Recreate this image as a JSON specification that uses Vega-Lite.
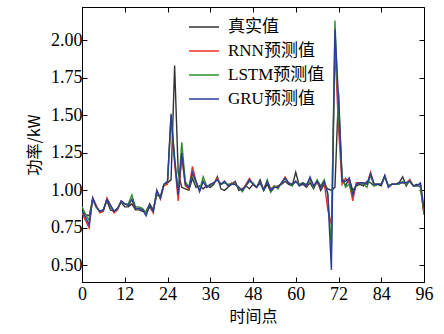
{
  "$schema": "https://vega.github.io/schema/vega-lite/v6.json",
  "width": 342,
  "height": 275,
  "autosize": {"type": "none"},
  "padding": {"left": 82, "top": 7, "right": 20, "bottom": 52},
  "background": "white",
  "config": {
    "view": {"stroke": "#000", "strokeWidth": 1},
    "axis": {
      "domainColor": "#000", "tickColor": "#000", "tickSize": -5, "grid": false,
      "labelFont": "Liberation Serif, Times New Roman, serif", "labelFontSize": 18, "labelColor": "#000",
      "titleFont": "Noto Sans CJK SC", "titleFontSize": 16, "titleFontWeight": "normal", "titleColor": "#000"
    },
    "legend": {
      "labelFont": "Liberation Serif, Noto Sans CJK SC, serif", "labelFontSize": 17, "labelColor": "#000"
    }
  },
  "data": {
    "values": [
      {"t":0,"真实值":0.86,"RNN预测值":0.85,"LSTM预测值":0.89,"GRU预测值":0.86},
      {"t":1,"真实值":0.84,"RNN预测值":0.80,"LSTM预测值":0.84,"GRU预测值":0.82},
      {"t":2,"真实值":0.83,"RNN预测值":0.75,"LSTM预测值":0.80,"GRU预测值":0.77},
      {"t":3,"真实值":0.94,"RNN预测值":0.95,"LSTM预测值":0.94,"GRU预测值":0.95},
      {"t":4,"真实值":0.89,"RNN预测值":0.90,"LSTM预测值":0.89,"GRU预测值":0.89},
      {"t":5,"真实值":0.86,"RNN预测值":0.85,"LSTM预测值":0.86,"GRU预测值":0.86},
      {"t":6,"真实值":0.87,"RNN预测值":0.86,"LSTM预测值":0.87,"GRU预测值":0.87},
      {"t":7,"真实值":0.93,"RNN预测值":0.95,"LSTM预测值":0.94,"GRU预测值":0.94},
      {"t":8,"真实值":0.87,"RNN预测值":0.90,"LSTM预测值":0.90,"GRU预测值":0.90},
      {"t":9,"真实值":0.86,"RNN预测值":0.85,"LSTM预测值":0.86,"GRU预测值":0.86},
      {"t":10,"真实值":0.88,"RNN预测值":0.87,"LSTM预测值":0.88,"GRU预测值":0.88},
      {"t":11,"真实值":0.92,"RNN预测值":0.93,"LSTM预测值":0.92,"GRU预测值":0.93},
      {"t":12,"真实值":0.89,"RNN预测值":0.91,"LSTM预测值":0.91,"GRU预测值":0.91},
      {"t":13,"真实值":0.89,"RNN预测值":0.90,"LSTM预测值":0.91,"GRU预测值":0.90},
      {"t":14,"真实值":0.91,"RNN预测值":0.94,"LSTM预测值":0.97,"GRU预测值":0.94},
      {"t":15,"真实值":0.87,"RNN预测值":0.88,"LSTM预测值":0.89,"GRU预测值":0.88},
      {"t":16,"真实值":0.87,"RNN预测值":0.88,"LSTM预测值":0.89,"GRU预测值":0.88},
      {"t":17,"真实值":0.86,"RNN预测值":0.87,"LSTM预测值":0.88,"GRU预测值":0.87},
      {"t":18,"真实值":0.86,"RNN预测值":0.85,"LSTM预测值":0.85,"GRU预测值":0.83},
      {"t":19,"真实值":0.91,"RNN预测值":0.89,"LSTM预测值":0.90,"GRU预测值":0.90},
      {"t":20,"真实值":0.87,"RNN预测值":0.85,"LSTM预测值":0.86,"GRU预测值":0.86},
      {"t":21,"真实值":0.97,"RNN预测值":1.00,"LSTM预测值":0.99,"GRU预测值":1.00},
      {"t":22,"真实值":0.96,"RNN预测值":0.94,"LSTM预测值":0.95,"GRU预测值":0.95},
      {"t":23,"真实值":1.04,"RNN预测值":1.03,"LSTM预测值":1.04,"GRU预测值":1.04},
      {"t":24,"真实值":1.05,"RNN预测值":1.04,"LSTM预测值":1.06,"GRU预测值":1.06},
      {"t":25,"真实值":1.07,"RNN预测值":1.48,"LSTM预测值":1.50,"GRU预测值":1.51},
      {"t":26,"真实值":1.83,"RNN预测值":1.18,"LSTM预测值":1.22,"GRU预测值":1.20},
      {"t":27,"真实值":1.12,"RNN预测值":0.93,"LSTM预测值":0.99,"GRU预测值":0.97},
      {"t":28,"真实值":1.02,"RNN预测值":1.22,"LSTM预测值":1.32,"GRU预测值":1.25},
      {"t":29,"真实值":1.01,"RNN预测值":1.03,"LSTM预测值":1.06,"GRU预测值":1.04},
      {"t":30,"真实值":1.00,"RNN预测值":1.01,"LSTM预测值":1.02,"GRU预测值":1.02},
      {"t":31,"真实值":1.08,"RNN预测值":1.16,"LSTM预测值":1.11,"GRU预测值":1.12},
      {"t":32,"真实值":1.02,"RNN预测值":1.06,"LSTM预测值":1.05,"GRU预测值":1.06},
      {"t":33,"真实值":1.03,"RNN预测值":1.00,"LSTM预测值":1.00,"GRU预测值":0.99},
      {"t":34,"真实值":1.01,"RNN预测值":1.06,"LSTM预测值":1.09,"GRU预测值":1.06},
      {"t":35,"真实值":1.03,"RNN预测值":1.02,"LSTM预测值":1.03,"GRU预测值":1.02},
      {"t":36,"真实值":1.02,"RNN预测值":1.04,"LSTM预测值":1.03,"GRU预测值":1.04},
      {"t":37,"真实值":1.04,"RNN预测值":1.05,"LSTM预测值":1.05,"GRU预测值":1.05},
      {"t":38,"真实值":1.09,"RNN预测值":1.08,"LSTM预测值":1.07,"GRU预测值":1.07},
      {"t":39,"真实值":1.01,"RNN预测值":1.04,"LSTM预测值":1.04,"GRU预测值":1.04},
      {"t":40,"真实值":1.00,"RNN预测值":1.06,"LSTM预测值":1.05,"GRU预测值":1.06},
      {"t":41,"真实值":1.02,"RNN预测值":1.03,"LSTM预测值":1.04,"GRU预测值":1.03},
      {"t":42,"真实值":1.04,"RNN预测值":1.05,"LSTM预测值":1.04,"GRU预测值":1.04},
      {"t":43,"真实值":1.06,"RNN预测值":1.04,"LSTM预测值":1.04,"GRU预测值":1.04},
      {"t":44,"真实值":1.00,"RNN预测值":1.02,"LSTM预测值":1.02,"GRU预测值":1.02},
      {"t":45,"真实值":1.01,"RNN预测值":1.00,"LSTM预测值":0.99,"GRU预测值":1.00},
      {"t":46,"真实值":1.03,"RNN预测值":1.04,"LSTM预测值":1.03,"GRU预测值":1.03},
      {"t":47,"真实值":1.01,"RNN预测值":1.08,"LSTM预测值":1.06,"GRU预测值":1.07},
      {"t":48,"真实值":1.04,"RNN预测值":1.04,"LSTM预测值":1.05,"GRU预测值":1.04},
      {"t":49,"真实值":1.02,"RNN预测值":1.02,"LSTM预测值":1.02,"GRU预测值":1.02},
      {"t":50,"真实值":1.07,"RNN预测值":1.05,"LSTM预测值":1.05,"GRU预测值":1.05},
      {"t":51,"真实值":1.00,"RNN预测值":1.01,"LSTM预测值":1.00,"GRU预测值":1.00},
      {"t":52,"真实值":1.04,"RNN预测值":1.06,"LSTM预测值":1.07,"GRU预测值":1.06},
      {"t":53,"真实值":0.99,"RNN预测值":1.01,"LSTM预测值":0.99,"GRU预测值":1.00},
      {"t":54,"真实值":1.02,"RNN预测值":1.03,"LSTM预测值":1.03,"GRU预测值":1.02},
      {"t":55,"真实值":1.03,"RNN预测值":1.02,"LSTM预测值":1.01,"GRU预测值":1.02},
      {"t":56,"真实值":1.04,"RNN预测值":1.05,"LSTM预测值":1.05,"GRU预测值":1.05},
      {"t":57,"真实值":1.06,"RNN预测值":1.09,"LSTM预测值":1.08,"GRU预测值":1.08},
      {"t":58,"真实值":1.04,"RNN预测值":1.05,"LSTM预测值":1.05,"GRU预测值":1.05},
      {"t":59,"真实值":1.03,"RNN预测值":1.04,"LSTM预测值":1.03,"GRU预测值":1.04},
      {"t":60,"真实值":1.12,"RNN预测值":1.06,"LSTM预测值":1.06,"GRU预测值":1.06},
      {"t":61,"真实值":1.03,"RNN预测值":1.04,"LSTM预测值":1.04,"GRU预测值":1.03},
      {"t":62,"真实值":1.04,"RNN预测值":1.05,"LSTM预测值":1.05,"GRU预测值":1.05},
      {"t":63,"真实值":1.02,"RNN预测值":1.03,"LSTM预测值":1.04,"GRU预测值":1.03},
      {"t":64,"真实值":1.05,"RNN预测值":1.08,"LSTM预测值":1.07,"GRU预测值":1.09},
      {"t":65,"真实值":1.01,"RNN预测值":1.03,"LSTM预测值":1.02,"GRU预测值":1.03},
      {"t":66,"真实值":1.06,"RNN预测值":1.05,"LSTM预测值":1.07,"GRU预测值":1.06},
      {"t":67,"真实值":1.00,"RNN预测值":1.02,"LSTM预测值":1.03,"GRU预测值":1.02},
      {"t":68,"真实值":1.04,"RNN预测值":1.05,"LSTM预测值":1.07,"GRU预测值":1.06},
      {"t":69,"真实值":1.01,"RNN预测值":0.87,"LSTM预测值":0.98,"GRU预测值":0.97},
      {"t":70,"真实值":1.00,"RNN预测值":0.77,"LSTM预测值":0.62,"GRU预测值":0.47},
      {"t":71,"真实值":1.02,"RNN预测值":1.95,"LSTM预测值":2.13,"GRU预测值":2.07},
      {"t":72,"真实值":1.65,"RNN预测值":1.42,"LSTM预测值":1.50,"GRU预测值":1.62},
      {"t":73,"真实值":1.08,"RNN预测值":1.04,"LSTM预测值":1.09,"GRU预测值":1.06},
      {"t":74,"真实值":1.03,"RNN预测值":1.08,"LSTM预测值":1.02,"GRU预测值":1.06},
      {"t":75,"真实值":1.08,"RNN预测值":1.05,"LSTM预测值":1.04,"GRU预测值":1.08},
      {"t":76,"真实值":1.00,"RNN预测值":0.93,"LSTM预测值":0.97,"GRU预测值":0.97},
      {"t":77,"真实值":1.03,"RNN预测值":1.05,"LSTM预测值":1.04,"GRU预测值":1.04},
      {"t":78,"真实值":1.04,"RNN预测值":1.05,"LSTM预测值":1.05,"GRU预测值":1.05},
      {"t":79,"真实值":1.03,"RNN预测值":1.05,"LSTM预测值":1.04,"GRU预测值":1.05},
      {"t":80,"真实值":1.06,"RNN预测值":1.04,"LSTM预测值":1.02,"GRU预测值":1.04},
      {"t":81,"真实值":1.05,"RNN预测值":1.12,"LSTM预测值":1.10,"GRU预测值":1.11},
      {"t":82,"真实值":1.03,"RNN预测值":1.04,"LSTM预测值":1.03,"GRU预测值":1.04},
      {"t":83,"真实值":1.04,"RNN预测值":1.04,"LSTM预测值":1.04,"GRU预测值":1.04},
      {"t":84,"真实值":1.03,"RNN预测值":1.04,"LSTM预测值":1.04,"GRU预测值":1.04},
      {"t":85,"真实值":1.09,"RNN预测值":1.10,"LSTM预测值":1.09,"GRU预测值":1.10},
      {"t":86,"真实值":1.03,"RNN预测值":1.02,"LSTM预测值":1.03,"GRU预测值":1.02},
      {"t":87,"真实值":1.04,"RNN预测值":1.04,"LSTM预测值":1.04,"GRU预测值":1.04},
      {"t":88,"真实值":1.04,"RNN预测值":1.04,"LSTM预测值":1.04,"GRU预测值":1.04},
      {"t":89,"真实值":1.05,"RNN预测值":1.05,"LSTM预测值":1.04,"GRU预测值":1.05},
      {"t":90,"真实值":1.09,"RNN预测值":1.05,"LSTM预测值":1.06,"GRU预测值":1.05},
      {"t":91,"真实值":1.03,"RNN预测值":1.05,"LSTM预测值":1.04,"GRU预测值":1.05},
      {"t":92,"真实值":1.07,"RNN预测值":1.07,"LSTM预测值":1.06,"GRU预测值":1.06},
      {"t":93,"真实值":1.03,"RNN预测值":1.03,"LSTM预测值":1.03,"GRU预测值":1.03},
      {"t":94,"真实值":1.04,"RNN预测值":1.03,"LSTM预测值":1.03,"GRU预测值":1.03},
      {"t":95,"真实值":1.02,"RNN预测值":1.04,"LSTM预测值":1.03,"GRU预测值":1.05},
      {"t":96,"真实值":0.84,"RNN预测值":0.84,"LSTM预测值":0.86,"GRU预测值":0.88}
    ]
  },
  "transform": [
    {"fold": ["真实值", "RNN预测值", "LSTM预测值", "GRU预测值"], "as": ["series", "value"]}
  ],
  "layer": [
    {
      "mark": {"type": "line", "strokeWidth": 1.4, "clip": true},
      "encoding": {
        "x": {"field": "t", "type": "quantitative",
              "scale": {"domain": [0, 96], "nice": false, "zero": false},
              "axis": {"values": [0,12,24,36,48,60,72,84,96], "title": "时间点", "labelPadding": 8, "titlePadding": 5, "labelFlush": false}},
        "y": {"field": "value", "type": "quantitative",
              "scale": {"domain": [0.39, 2.22], "nice": false, "zero": false},
              "axis": {"values": [0.5,0.75,1.0,1.25,1.5,1.75,2.0], "format": ".2f", "title": "功率/kW", "labelPadding": 5, "titlePadding": 8}},
        "color": {"field": "series", "type": "nominal",
                  "scale": {"domain": ["真实值", "RNN预测值", "LSTM预测值", "GRU预测值"],
                            "range": ["#333333", "#e8312a", "#2e8f2e", "#2b3d9b"]},
                  "sort": ["真实值", "RNN预测值", "LSTM预测值", "GRU预测值"],
                  "legend": {"title": null, "orient": "none", "legendX": 106, "legendY": 4,
                             "symbolType": "stroke", "symbolSize": 900, "symbolStrokeWidth": 1.5,
                             "labelOffset": 8, "rowPadding": 0, "padding": 0}}
      }
    },
    {
      "mark": {"type": "point", "opacity": 0},
      "encoding": {
        "x": {"field": "t", "type": "quantitative",
              "axis": {"orient": "top", "values": [0,12,24,36,48,60,72,84,96], "labels": false, "title": null, "domain": false}},
        "y": {"field": "value", "type": "quantitative",
              "axis": {"orient": "right", "values": [0.5,0.75,1.0,1.25,1.5,1.75,2.0], "labels": false, "title": null, "domain": false}}
      }
    }
  ],
  "resolve": {"axis": {"x": "independent", "y": "independent"}}
}
